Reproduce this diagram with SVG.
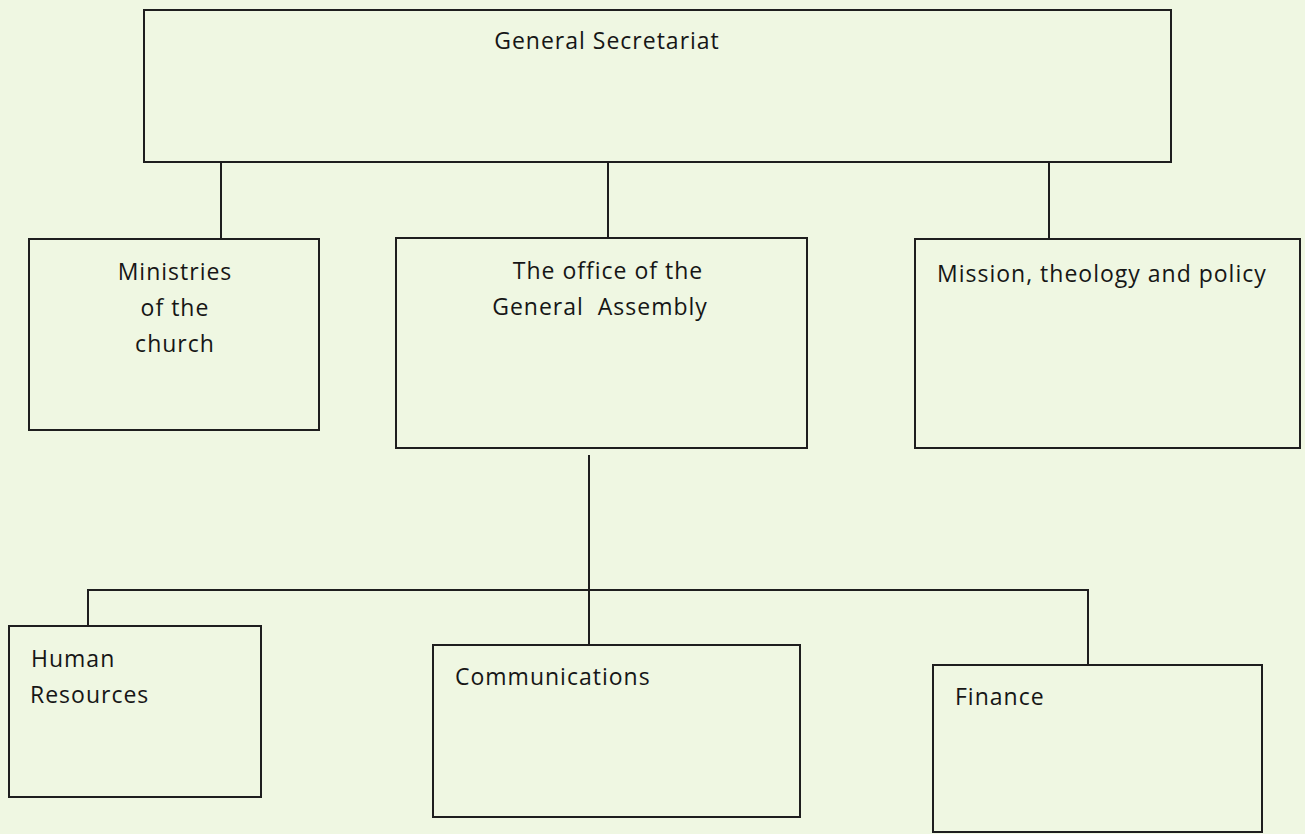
<svg xmlns="http://www.w3.org/2000/svg" width="1305" height="834" viewBox="0 0 1305 834">
  <style>
    .box { fill: none; stroke: #1e1e1e; stroke-width: 2; }
    .conn { stroke: #1e1e1e; stroke-width: 2; fill: none; }
    .lbl { font-family: "Open Sans", "Liberation Sans", sans-serif; font-size: 23px; font-weight: 500; letter-spacing: 1px; fill: #161616; }
    .c { text-anchor: middle; }
  </style>
  <rect x="0" y="0" width="1305" height="834" fill="#eff7e2"/>
  <g id="connectors">
    <line class="conn" x1="221" y1="162" x2="221" y2="239"/>
    <line class="conn" x1="608" y1="162" x2="608" y2="238"/>
    <line class="conn" x1="1049" y1="162" x2="1049" y2="239"/>
    <line class="conn" x1="589" y1="455" x2="589" y2="645"/>
    <polyline class="conn" points="88,626 88,590 1088,590 1088,665"/>
  </g>
  <g id="general-secretariat">
    <rect class="box" x="144" y="10" width="1027" height="152"/>
    <text class="lbl c" x="607" y="49">General Secretariat</text>
  </g>
  <g id="ministries">
    <rect class="box" x="29" y="239" width="290" height="191"/>
    <text class="lbl c" x="175" y="280">Ministries</text>
    <text class="lbl c" x="175" y="316">of the</text>
    <text class="lbl c" x="175" y="352">church</text>
  </g>
  <g id="general-assembly">
    <rect class="box" x="396" y="238" width="411" height="210"/>
    <text class="lbl c" x="608" y="279">The office of the</text>
    <text class="lbl c" x="600" y="315" xml:space="preserve">General  Assembly</text>
  </g>
  <g id="mission">
    <rect class="box" x="915" y="239" width="385" height="209"/>
    <text class="lbl" x="937" y="282">Mission, theology and policy</text>
  </g>
  <g id="human-resources">
    <rect class="box" x="9" y="626" width="252" height="171"/>
    <text class="lbl" x="31" y="667">Human</text>
    <text class="lbl" x="30" y="703">Resources</text>
  </g>
  <g id="communications">
    <rect class="box" x="433" y="645" width="367" height="172"/>
    <text class="lbl" x="455" y="685">Communications</text>
  </g>
  <g id="finance">
    <rect class="box" x="933" y="665" width="329" height="167"/>
    <text class="lbl" x="955" y="705">Finance</text>
  </g>
</svg>
